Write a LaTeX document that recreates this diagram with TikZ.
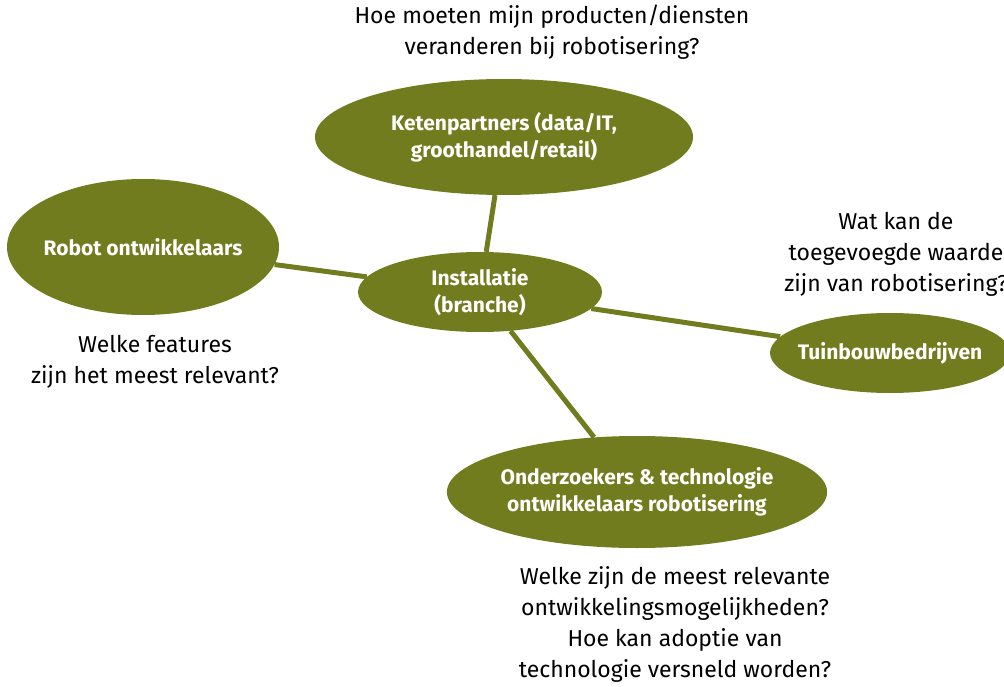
\documentclass[tikz,border=0pt]{standalone}
\usepackage{fontspec}
\setmainfont{Fira Sans}
\usetikzlibrary{shapes.geometric}
\definecolor{mapOlive}{RGB}{112,124,30}
\tikzset{
  hub/.style={ellipse, fill=mapOlive, text=white, inner sep=0pt, align=center,
    font=\bfseries\fontsize{21}{27}\selectfont},
  question/.style={align=center, text=black, font=\fontsize{23}{31}\selectfont},
  spoke/.style={draw=mapOlive, line width=5pt}
}
\begin{document}
\begin{tikzpicture}[x=1pt, y=-1pt]
% canvas in pixel units of the original picture
\useasboundingbox (0,0) rectangle (1004,687);
% Ellipses
\node[hub, inner xsep=-4pt, minimum width=272pt, minimum height=136pt] (robot) at (143,247) {Robot ontwikkelaars};
\node[hub, minimum width=378pt, minimum height=116pt] (keten) at (504,137) {Ketenpartners (data/IT,\\groothandel/retail)};
\node[hub, minimum width=244pt, minimum height=80pt] (install) at (480,292) {Installatie\\(branche)};
\node[hub, inner xsep=-8pt, minimum width=240pt, minimum height=80pt] (tuin) at (890,353) {Tuinbouwbedrijven};
\node[hub, inner xsep=-2pt, minimum width=380pt, minimum height=112pt] (onderzoek) at (637,492) {Onderzoekers \& technologie\\ontwikkelaars robotisering};
% Spokes
\draw[spoke] (install) -- (keten);
\draw[spoke] (install) -- (robot);
\draw[spoke] (install) -- (tuin);
\draw[spoke] (install) -- (onderzoek);
% Questions
\node[question] (qketen) at (552,32) {Hoe moeten mijn producten/diensten\\veranderen bij robotisering?};
\node[question] (qtuin) at (896,254) {Wat kan de\\toegevoegde waarde\\zijn van robotisering?};
\node[question] (qrobot) at (155,362) {Welke features\\zijn het meest relevant?};
\node[question] (qonderzoek) at (675,624) {Welke zijn de meest relevante\\ontwikkelingsmogelijkheden?\\Hoe kan adoptie van\\technologie versneld worden?};
\end{tikzpicture}
\end{document}
